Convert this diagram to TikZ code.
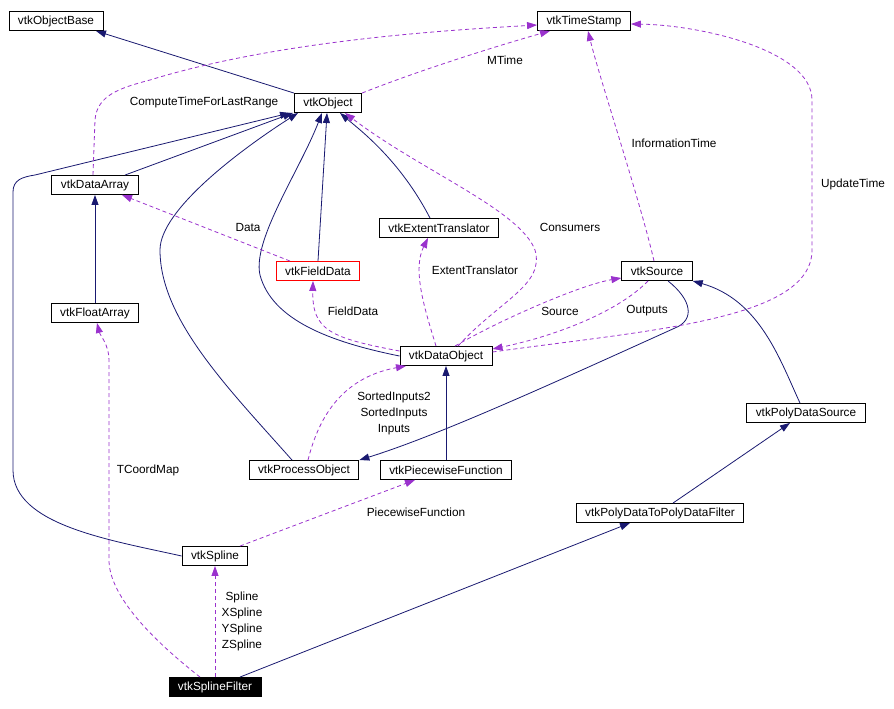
\documentclass[tikz,border=0pt]{standalone}
\usepackage{fontspec}
\setmainfont{Liberation Sans}
\usetikzlibrary{arrows.meta}

\definecolor{vtknavy}{HTML}{191970}
\definecolor{vtkviolet}{HTML}{9A32CD}
\definecolor{vtkrouge}{HTML}{FF0000}

\begin{document}
\begin{tikzpicture}[x=1pt, y=-1pt,
  every node/.style={font=\fontsize{11.8}{14}\selectfont},
  cls/.style={draw=black, line width=0.9pt, fill=white, inner xsep=9pt, inner ysep=0pt,
              minimum height=19pt},
  herite/.style={draw=vtknavy, line width=0.8pt, -{Triangle[length=10pt,width=7pt]}},
  usage/.style={draw=vtkviolet, line width=0.8pt, dash pattern=on 4pt off 3pt,
                -{Triangle[length=10pt,width=7pt]}, fill=none},
  lbl/.style={inner sep=0pt, align=center}]
\useasboundingbox (0,0) rectangle (894,709);

\node[cls] (objbase) at (56,21) {vtkObjectBase};
\node[cls] (tstamp) at (584,21) {vtkTimeStamp};
\node[cls] (object) at (328,103) {vtkObject};
\node[cls] (darray) at (95,185) {vtkDataArray};
\node[cls] (extent) at (439,228) {vtkExtentTranslator};
\node[cls, draw=vtkrouge] (fdata) at (318,271) {vtkFieldData};
\node[cls] (source) at (657,271) {vtkSource};
\node[cls] (farray) at (95,313) {vtkFloatArray};
\node[cls] (dobject) at (446,356) {vtkDataObject};
\node[cls] (pdsource) at (806,413) {vtkPolyDataSource};
\node[cls] (pobject) at (304,470) {vtkProcessObject};
\node[cls] (pwfunc) at (446,470) {vtkPiecewiseFunction};
\node[cls] (pdfilter) at (660,513) {vtkPolyDataToPolyDataFilter};
\node[cls] (spline) at (215,556) {vtkSpline};
\node[cls, fill=black, text=white] (sfilter) at (215,687) {vtkSplineFilter};

% heritage
\draw[herite] (object.north west) -- ([xshift=40]objbase.south);
\draw[herite] ([xshift=30]darray.north) -- ([xshift=-35]object.south);
\draw[herite] (farray.north) -- (darray.south);
\draw[herite] (fdata.north) -- ([xshift=-1]object.south);
\draw[herite] ([xshift=-9]extent.north) .. controls (400,160) and (360,130) .. ([xshift=12]object.south);
\draw[herite] (dobject.west) .. controls (330,342) and (272,320) .. (260,275)
  .. controls (252,240) and (300,170) .. ([xshift=-6]object.south);
\draw[herite] ([xshift=-12]pobject.north) .. controls (230,390) and (160,320) .. (160,250)
  .. controls (160,210) and (240,150) .. ([xshift=-30]object.south);
\draw[herite] (spline.west) .. controls (110,540) and (13,525) .. (13,470) -- (13,192)
  .. controls (13,180) and (22,177) .. (35,175) -- ([xshift=-38]object.south);
\draw[herite] ([xshift=11]source.south) .. controls (692,300) and (695,320) .. (675,328)
  .. controls (560,380) and (440,435) .. (pobject.north east);
\draw[herite] ([xshift=-6]pdsource.north) .. controls (780,360) and (760,300) .. (source.south east);
\draw[herite] ([xshift=13]pdfilter.north) -- ([xshift=-16]pdsource.south);
\draw[herite] ([xshift=25]sfilter.north) -- ([xshift=-30]pdfilter.south);
\draw[herite] (pwfunc.north) -- (dobject.south);

% usage
\draw[usage] ([xshift=-2]darray.north) -- (95,120) .. controls (97,95) and (120,88) .. (150,80)
  .. controls (280,40) and (450,30) .. ([yshift=-4]tstamp.west);
\node[lbl] (lcompute) at (204,102) {ComputeTimeForLastRange};
\draw[usage] (object.north east) .. controls (420,70) and (500,45) .. ([xshift=-34]tstamp.south);
\node[lbl] (lmtime) at (505,60) {MTime};
\draw[usage] ([xshift=-3]source.north) .. controls (640,200) and (600,80) .. ([xshift=4]tstamp.south);
\node[lbl] (linfo) at (674,143) {InformationTime};
\draw[usage] ([yshift=4]dobject.east) .. controls (650,330) and (812,320) .. (812,250) -- (812,100)
  .. controls (812,50) and (700,25) .. ([yshift=-3]tstamp.east);
\node[lbl] (lupdate) at (853,184) {UpdateTime};
\draw[usage] ([xshift=12]dobject.north) .. controls (500,300) and (545,285) .. (535,250)
  .. controls (520,210) and (420,170) .. ([xshift=17]object.south);
\node[lbl] (lconsumers) at (570,227) {Consumers};
\draw[usage] ([xshift=-28]fdata.north) -- ([xshift=27]darray.south);
\node[lbl] (ldata) at (248,227) {Data};
\draw[usage] ([xshift=-10]dobject.north) .. controls (425,310) and (412,270) .. ([xshift=-11]extent.south);
\node[lbl] (lextent) at (475,270) {ExtentTranslator};
\draw[usage] ([yshift=5]dobject.west) .. controls (330,338) and (312,330) .. ([xshift=-5]fdata.south);
\node[lbl] (lfdata) at (353,311) {FieldData};
\draw[usage] ([xshift=9]dobject.north) .. controls (500,320) and (580,285) .. ([yshift=-7]source.west);
\node[lbl] (lsource) at (560,311) {Source};
\draw[usage] ([xshift=-9]source.south) .. controls (620,310) and (560,335) .. ([yshift=7]dobject.east);
\node[lbl] (loutputs) at (647,311) {Outputs};
\draw[usage] ([xshift=4]pobject.north) .. controls (318,420) and (340,378) .. ([xshift=-40]dobject.south);
\node[lbl, font=\fontsize{11.8}{16}\selectfont] (linputs) at (394,413) {SortedInputs2\\SortedInputs\\Inputs};
\draw[usage] ([xshift=25]spline.north) -- ([xshift=-31]pwfunc.south);
\node[lbl] (lpwfunc) at (416,512) {PiecewiseFunction};
\draw[usage] (sfilter.north) -- (spline.south);
\node[lbl, font=\fontsize{11.8}{16}\selectfont] (lspline) at (242,621) {Spline\\XSpline\\YSpline\\ZSpline};
\draw[usage] ([xshift=-15]sfilter.north) .. controls (140,630) and (109,590) .. (109,560) -- (109,360)
  .. controls (109,345) and (100,335) .. ([xshift=2]farray.south);
\node[lbl] (ltcoord) at (148,470) {TCoordMap};
\end{tikzpicture}
\end{document}
